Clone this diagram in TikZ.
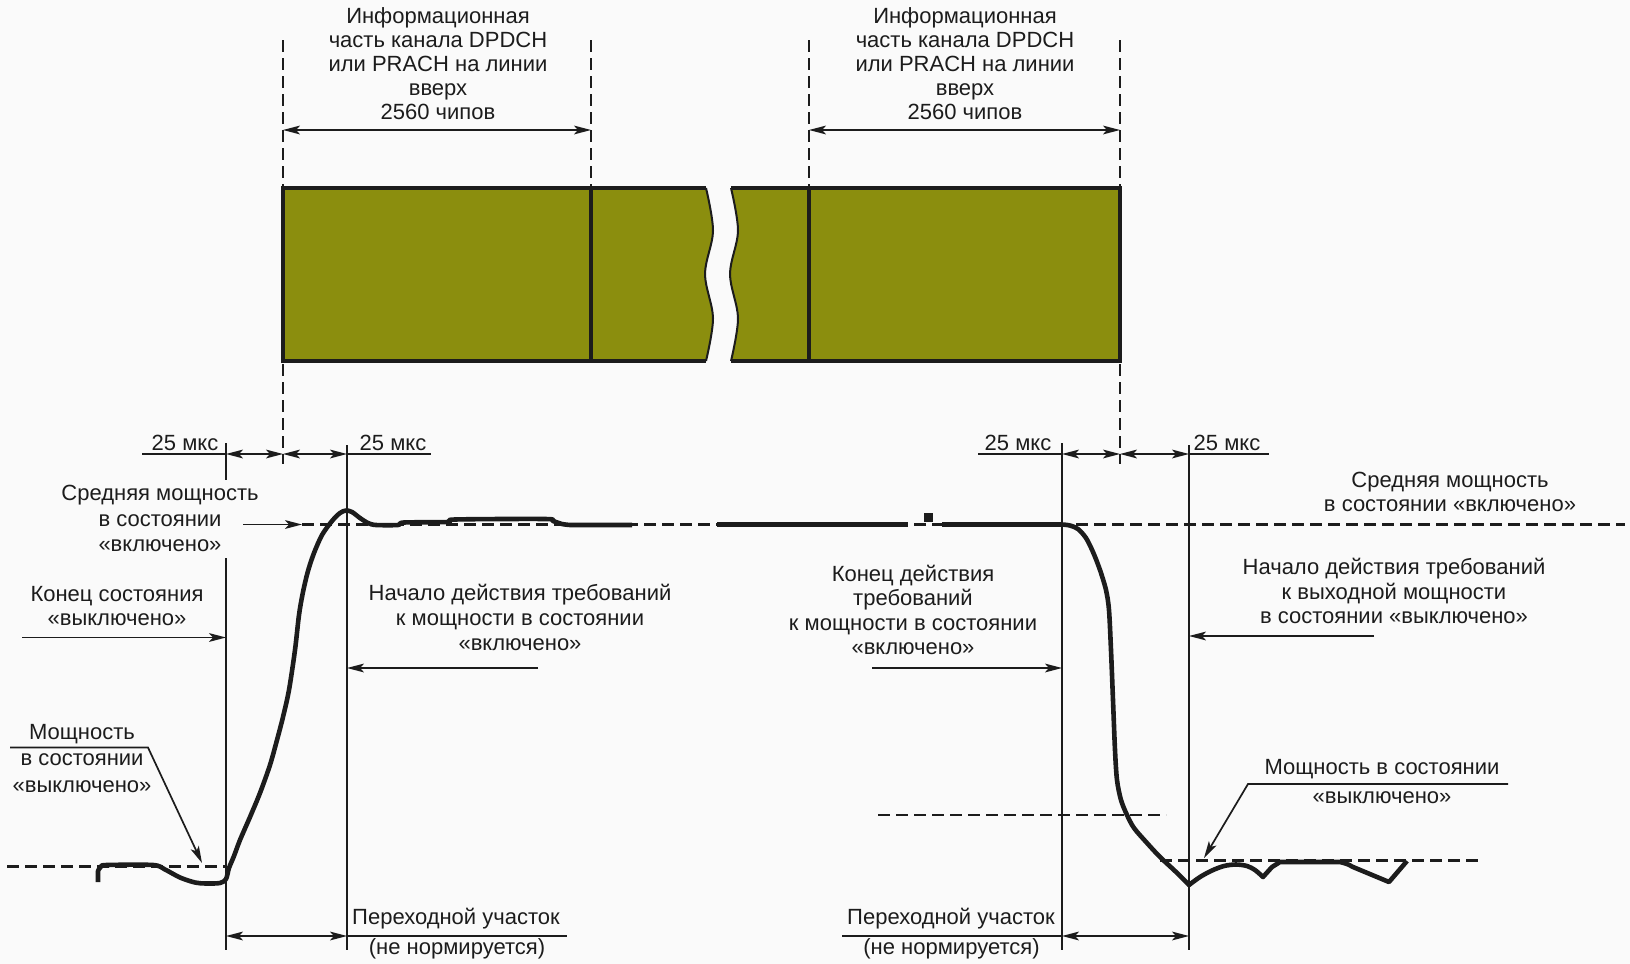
\documentclass[tikz,border=0pt]{standalone}
\usepackage{fontspec}
\setmainfont{Liberation Sans}
\usetikzlibrary{arrows.meta}
\definecolor{bgcol}{RGB}{250,250,250}
\definecolor{olivefill}{RGB}{139,142,14}
\definecolor{ink}{RGB}{28,28,28}
\newcommand\lblfont[1]{\fontsize{11}{#1}\selectfont}
\begin{document}
\begin{tikzpicture}[x=0.5pt,y=-0.5pt,
  arr/.tip={Stealth[length=8.5pt,width=4.4pt,inset=2pt]},
  thinl/.style={draw=ink,line width=0.85pt},
  dashl/.style={draw=ink,line width=1.1pt,dash pattern=on 5.8pt off 3.2pt},
  sig/.style={draw=ink,line width=2.3pt,line join=round},
  boxl/.style={draw=ink,line width=2pt,line join=miter},
  wavel/.style={draw=ink,line width=1pt},
  dimarrow/.style={thinl,arr-arr},
  ptr/.style={thinl,-arr},
  lbl/.style={font=\lblfont{12pt},align=center,inner sep=0pt,text=ink}]

% background and frame
\fill[bgcol] (0,0) rectangle (1630,964);
\useasboundingbox (0,0) rectangle (1630,964);

% dashed guides
\coordinate (g1t) at (283,40);  \coordinate (g1b) at (283,464);
\coordinate (g2t) at (591,40);  \coordinate (g2b) at (591,188);
\coordinate (g3t) at (809,40);  \coordinate (g3b) at (809,188);
\coordinate (g4t) at (1120,40); \coordinate (g4b) at (1120,464);
\draw[dashl] (g1t) -- (g1b);
\draw[dashl] (g2t) -- (g2b);
\draw[dashl] (g3t) -- (g3b);
\draw[dashl] (g4t) -- (g4b);

% channel box
\fill[olivefill] (283,188) -- (706,188) -- plot[smooth,tension=0.55] coordinates {(706,188) (713,231) (705,274) (713,318) (706,361)} -- (283,361) -- cycle;
\fill[olivefill] (731,188) -- (1120,188) -- (1120,361) -- (731,361) -- plot[smooth,tension=0.55] coordinates {(731,361) (738,318) (730,274) (738,231) (731,188)} -- cycle;
\draw[boxl] (706,188) -- (283,188) -- (283,361) -- (706,361);
\draw[boxl] (731,188) -- (1120,188) -- (1120,361) -- (731,361);
\draw[boxl] (591,188) -- (591,361);
\draw[boxl] (809,188) -- (809,361);
\draw[wavel] plot[smooth,tension=0.55] coordinates {(706,188) (713,231) (705,274) (713,318) (706,361)};
\draw[wavel] plot[smooth,tension=0.55] coordinates {(731,188) (738,231) (730,274) (738,318) (731,361)};

% top dimension arrows
\coordinate (a1l) at (283,130); \coordinate (a1r) at (591,130);
\coordinate (a2l) at (809,130); \coordinate (a2r) at (1120,130);
\draw[dimarrow] (a1l) -- (a1r);
\draw[dimarrow] (a2l) -- (a2r);
\node[lbl] (info1) at (438,64) {Информационная\\часть канала DPDCH\\или PRACH на линии\\вверх\\2560 чипов};
\node[lbl] (info2) at (965,64) {Информационная\\часть канала DPDCH\\или PRACH на линии\\вверх\\2560 чипов};

% vertical reference lines
\coordinate (v1t) at (226,443); \coordinate (v1m) at (226,480); \coordinate (v1n) at (226,558); \coordinate (v1b) at (226,950);
\coordinate (v2t) at (347,445); \coordinate (v2b) at (347,950);
\coordinate (v3t) at (1062,443); \coordinate (v3b) at (1062,950);
\coordinate (v4t) at (1189,445); \coordinate (v4b) at (1189,950);
\draw[thinl] (v1t) -- (v1m);
\draw[thinl] (v1n) -- (v1b);
\draw[thinl] (v2t) -- (v2b);
\draw[thinl] (v3t) -- (v3b);
\draw[thinl] (v4t) -- (v4b);

% 25 us marks
\coordinate (m1a) at (142,454); \coordinate (m1b) at (226,454); \coordinate (m1c) at (283,454); \coordinate (m1d) at (347,454); \coordinate (m1e) at (431,454);
\coordinate (m2a) at (978,454); \coordinate (m2b) at (1062,454); \coordinate (m2c) at (1120,454); \coordinate (m2d) at (1189,454); \coordinate (m2e) at (1269,454);
\draw[thinl] (m1a) -- (m1b);
\draw[dimarrow] (m1b) -- (m1c);
\draw[dimarrow] (m1c) -- (m1d);
\draw[thinl] (m1d) -- (m1e);
\draw[thinl] (m2a) -- (m2b);
\draw[dimarrow] (m2b) -- (m2c);
\draw[dimarrow] (m2c) -- (m2d);
\draw[thinl] (m2d) -- (m2e);
\node[lbl,anchor=base] (us1) at (185,450) {25 мкс};
\node[lbl,anchor=base] (us2) at (393,450) {25 мкс};
\node[lbl,anchor=base] (us3) at (1018,450) {25 мкс};
\node[lbl,anchor=base] (us4) at (1227,450) {25 мкс};

% reference levels
\coordinate (offLa) at (7,866.5);   \coordinate (offLb) at (226,866.5);
\coordinate (meanA) at (302,524.5); \coordinate (meanB) at (1625,524.5);
\coordinate (lvlA) at (878,815);    \coordinate (lvlB) at (1166,815);
\coordinate (offRa) at (1160,860.5); \coordinate (offRb) at (1483,860.5);
\draw[dashl] (offLa) -- (offLb);
\draw[dashl] (meanA) -- (meanB);
\draw[dashl] (lvlA) -- (lvlB);
\draw[dashl] (offRa) -- (offRb);

% power curve: ramp up
\draw[sig] (98,882) -- plot[smooth,tension=0.5] coordinates {(98,871) (101,866.5) (107,865) (153,865) (165,869.5) (180,877.5) (195,882.5) (206,883.5) (220,883) (226,879) (229,868) (234,856) (240,840) (250,817) (260,793) (270,765) (277,740) (283,717) (289,690) (295,650) (299,615) (303,592) (308,571) (314,553) (322,535) (332,521) (340,513) (346,510.5) (352,512) (360,518) (368,523) (376,525) (398,525) (404,522.5) (448,522) (455,519.5) (545,519) (553,521) (562,524) (570,525)} -- (632,525);
% steady part
\draw[sig] (717,524.5) -- (908,524.5);
\fill[ink] (924,513) rectangle (933,522);
\draw[sig] (942,524.5) -- (1062,524.5);
% ramp down
\draw[sig] plot[smooth,tension=0.5] coordinates {(1062,524.5) (1070,525.5) (1078,529) (1086,538) (1093,552) (1100,570) (1106,590) (1109,610) (1111,650) (1113,700) (1115,750) (1117,780) (1121,800) (1127,815) (1134,828) (1147,843) (1160,857) (1175,871) (1189,885)}
  -- plot[smooth,tension=0.5] coordinates {(1189,885) (1200,877) (1212,870.5) (1224,866) (1236,864.5) (1247,866) (1255,870) (1263,877)}
  -- (1272,867) -- (1280,862) -- (1340,862)
  -- plot[smooth,tension=0.5] coordinates {(1340,862) (1347,864) (1353,867)}
  -- (1389,882) -- (1407,861);

% labels with pointers
\node[lbl,font=\lblfont{12.6pt}] (meanL) at (160,518.5) {Средняя мощность\\в состоянии\\«включено»};
\coordinate (meanLa) at (243,524.5);
\draw[ptr] (meanLa) -- (meanA);

\node[lbl] (endOff) at (117,606) {Конец состояния\\«выключено»};
\coordinate (endOffa) at (22,637.5); \coordinate (endOffb) at (226,637.5);
\draw[ptr] (endOffa) -- (endOffb);

\node[lbl,font=\lblfont{12.3pt}] (startOn) at (520,617.5) {Начало действия требований\\к мощности в состоянии\\«включено»};
\coordinate (startOna) at (538,668); \coordinate (startOnb) at (347,668);
\draw[ptr] (startOna) -- (startOnb);

\node[lbl,font=\lblfont{13.2pt}] (offL) at (82,758.5) {Мощность\\в состоянии\\«выключено»};
\coordinate (offLl1) at (10,747.5); \coordinate (offLl2) at (148,747.5); \coordinate (offLl3) at (202,863);
\draw[ptr] (offLl1) -- (offLl2) -- (offLl3);

\node[lbl,font=\lblfont{12.3pt}] (endOn) at (913,610) {Конец действия\\требований\\к мощности в состоянии\\«включено»};
\coordinate (endOna) at (872,668); \coordinate (endOnb) at (1062,668);
\draw[ptr] (endOna) -- (endOnb);

\node[lbl,font=\lblfont{12.3pt}] (meanR) at (1450,492) {Средняя мощность\\в состоянии «включено»};

\node[lbl,font=\lblfont{12.4pt}] (startOff) at (1394,591) {Начало действия требований\\к выходной мощности\\в состоянии «выключено»};
\coordinate (startOffa) at (1374,636); \coordinate (startOffb) at (1189,636);
\draw[ptr] (startOffa) -- (startOffb);

\node[lbl,font=\lblfont{14.5pt}] (offR) at (1382,782) {Мощность в состоянии\\«выключено»};
\coordinate (offRl1) at (1508,784); \coordinate (offRl2) at (1248,784); \coordinate (offRl3) at (1204,858);
\draw[ptr] (offRl1) -- (offRl2) -- (offRl3);

% transition intervals
\coordinate (tr1a) at (226,936); \coordinate (tr1b) at (347,936); \coordinate (tr1c) at (567,936);
\draw[dimarrow] (tr1a) -- (tr1b);
\draw[thinl] (tr1b) -- (tr1c);
\node[lbl] (tr1t) at (456,918.5) {Переходной участок};
\node[lbl] (tr1n) at (457,949) {(не нормируется)};

\coordinate (tr2a) at (842,936); \coordinate (tr2b) at (1062,936); \coordinate (tr2c) at (1189,936);
\draw[thinl] (tr2a) -- (tr2b);
\draw[dimarrow] (tr2b) -- (tr2c);
\node[lbl] (tr2t) at (951,918.5) {Переходной участок};
\node[lbl] (tr2n) at (951.5,949) {(не нормируется)};

\end{tikzpicture}
\end{document}
